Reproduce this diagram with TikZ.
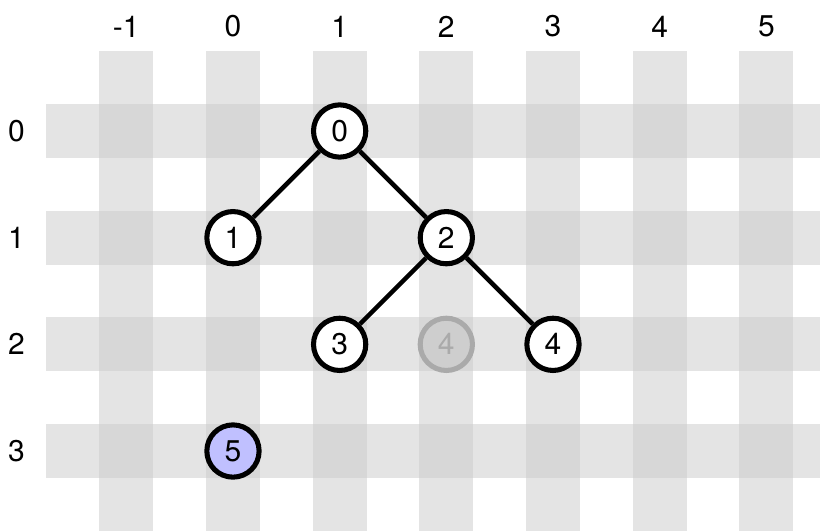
\documentclass[tikz,border=0pt]{standalone}
\usepackage{fontspec}
\setmainfont{TeX Gyre Heros}
\begin{document}
\begin{tikzpicture}[x=1cm,y=-1cm,
  stripe/.style={fill={rgb,255:red,203;green,203;blue,203}, fill opacity=0.52, draw=none},
  lbl/.style={font=\fontsize{8}{9}\selectfont, inner sep=0pt},
  tnode/.style={circle, draw=black, line width=1.35pt, fill=white, minimum size=0.49cm, inner sep=0pt, font=\fontsize{8}{9}\selectfont},
  ghost/.style={tnode, draw={rgb,255:red,170;green,170;blue,170}, fill={rgb,255:red,206;green,206;blue,206}, text={rgb,255:red,170;green,170;blue,170}},
  newn/.style={tnode, fill={rgb,255:red,192;green,192;blue,255}},
  edge/.style={line width=1.2pt, draw=black}]
\useasboundingbox (-2.184,-1.228) rectangle (5.503,3.75);
% vertical stripes
\foreach \c in {-1,...,5} {
  \fill[stripe] (\c-0.253,-0.75) rectangle (\c+0.253,3.75);
  \node[lbl] (col\c) at (\c,-0.98) {\c};
}
% horizontal stripes
\foreach \r in {0,...,3} {
  \fill[stripe] (-1.753,\r-0.253) rectangle (5.503,\r+0.253);
  \node[lbl] (row\r) at (-2.03,\r) {\r};
}
% tree
\node[tnode] (n0) at (1,0) {0};
\node[tnode] (n1) at (0,1) {1};
\node[tnode] (n2) at (2,1) {2};
\node[tnode] (n3) at (1,2) {3};
\node[ghost] (g4) at (2,2) {4};
\node[tnode] (n4) at (3,2) {4};
\node[newn] (n5) at (0,3) {5};
\draw[edge] (n0) -- (n1);
\draw[edge] (n0) -- (n2);
\draw[edge] (n2) -- (n3);
\draw[edge] (n2) -- (n4);
\end{tikzpicture}
\end{document}
